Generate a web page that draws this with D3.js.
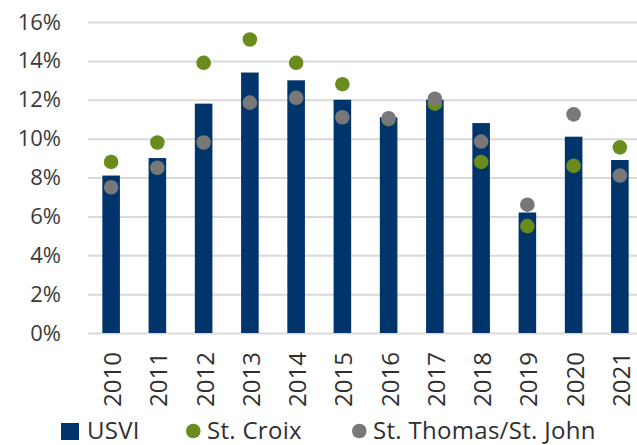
<!DOCTYPE html>
<html>
<head>
<meta charset="utf-8">
<script src="https://cdn.jsdelivr.net/npm/d3@7"></script>
<style>
  body { margin: 0; background: #fff; }
  svg { display: block; }
  svg text { font-family: "Open Sans", sans-serif; }
</style>
</head>
<body>
<div id="chart"></div>
<script>
// data
const years = ['2010', '2011', '2012', '2013', '2014', '2015', '2016', '2017', '2018', '2019', '2020', '2021'];
const usvi = [8.1, 9.0, 11.8, 13.4, 13.0, 12.0, 11.1, 12.0, 10.8, 6.2, 10.1, 8.9];
const stCroix = [8.8, 9.8, 13.9, 15.1, 13.9, 12.8, 11.0, 11.8, 8.8, 5.5, 8.6, 9.55];
const stThomas = [7.5, 8.5, 9.8, 11.85, 12.1, 11.1, 11.05, 12.05, 9.85, 6.6, 11.25, 8.1];
const yTicks = [0, 2, 4, 6, 8, 10, 12, 14, 16];
const legendItems = ['USVI', 'St. Croix', 'St. Thomas/St. John'];

const colors = { usvi: '#00356b', croix: '#6a8c1c', thomas: '#7a7779' };

const width = 637, height = 445;
const plotLeft = 88, plotRight = 643, plotTop = 22, plotBottom = 333;

const svg = d3.select('#chart').append('svg')
    .attr('width', width)
    .attr('height', height);

const x = d3.scaleBand()
    .domain(years)
    .range([plotLeft, plotRight])
    .paddingInner(0.62)
    .paddingOuter(0.31);

const y = d3.scaleLinear()
    .domain([0, 16])
    .range([plotBottom, plotTop]);

// y axis + gridlines
const yAxis = svg.append('g')
    .attr('transform', `translate(${plotLeft},0)`)
    .call(d3.axisLeft(y)
        .tickValues(yTicks)
        .tickFormat(d => d + '%')
        .tickSize(-(width - plotLeft))
        .tickPadding(27));
yAxis.select('.domain').remove();
yAxis.selectAll('.tick line')
    .attr('stroke', '#d9d9d9')
    .attr('stroke-width', 2);
yAxis.selectAll('.tick text')
    .attr('fill', '#3a3a3a')
    .style('font-size', '22px');

// bars
svg.append('g').selectAll('rect')
    .data(usvi)
    .enter()
    .append('rect')
    .attr('x', (d, i) => x(years[i]))
    .attr('y', d => y(d))
    .attr('width', x.bandwidth())
    .attr('height', d => y(0) - y(d))
    .attr('fill', colors.usvi);

// dots
const cx = (d, i) => x(years[i]) + x.bandwidth() / 2;
svg.append('g').selectAll('circle')
    .data(stCroix)
    .enter()
    .append('circle')
    .attr('cx', cx)
    .attr('cy', d => y(d))
    .attr('r', 7.3)
    .attr('fill', colors.croix);

svg.append('g').selectAll('circle')
    .data(stThomas)
    .enter()
    .append('circle')
    .attr('cx', cx)
    .attr('cy', d => y(d))
    .attr('r', 7.3)
    .attr('fill', colors.thomas);

// x axis, rotated labels
const xAxis = svg.append('g')
    .attr('transform', `translate(0,${plotBottom})`)
    .call(d3.axisBottom(x).tickSize(0).tickPadding(0));
xAxis.select('.domain').remove();
xAxis.selectAll('.tick text')
    .attr('transform', 'rotate(-90)')
    .attr('text-anchor', 'end')
    .attr('x', -19)
    .attr('y', 1.5)
    .attr('dy', '0.35em')
    .attr('fill', '#2f2f2f')
    .style('font-size', '24px');

// legend
const legend = svg.append('g').attr('transform', 'translate(0,439)');
const legX = [61, 186, 352];
legendItems.forEach((name, i) => {
    const g = legend.append('g').attr('transform', `translate(${legX[i]},0)`);
    if (i === 0) {
        g.append('rect').attr('x', 0).attr('y', -16).attr('width', 18).attr('height', 17)
            .attr('fill', colors.usvi);
    } else {
        g.append('circle').attr('cx', 7.3).attr('cy', -8).attr('r', 7.3)
            .attr('fill', i === 1 ? colors.croix : colors.thomas);
    }
    g.append('text')
        .attr('x', i === 0 ? 26 : 21)
        .attr('y', 0)
        .attr('fill', '#2f2f2f')
        .style('font-size', '24px')
        .style('letter-spacing', '0.3px')
        .text(name);
});
</script>
</body>
</html>
